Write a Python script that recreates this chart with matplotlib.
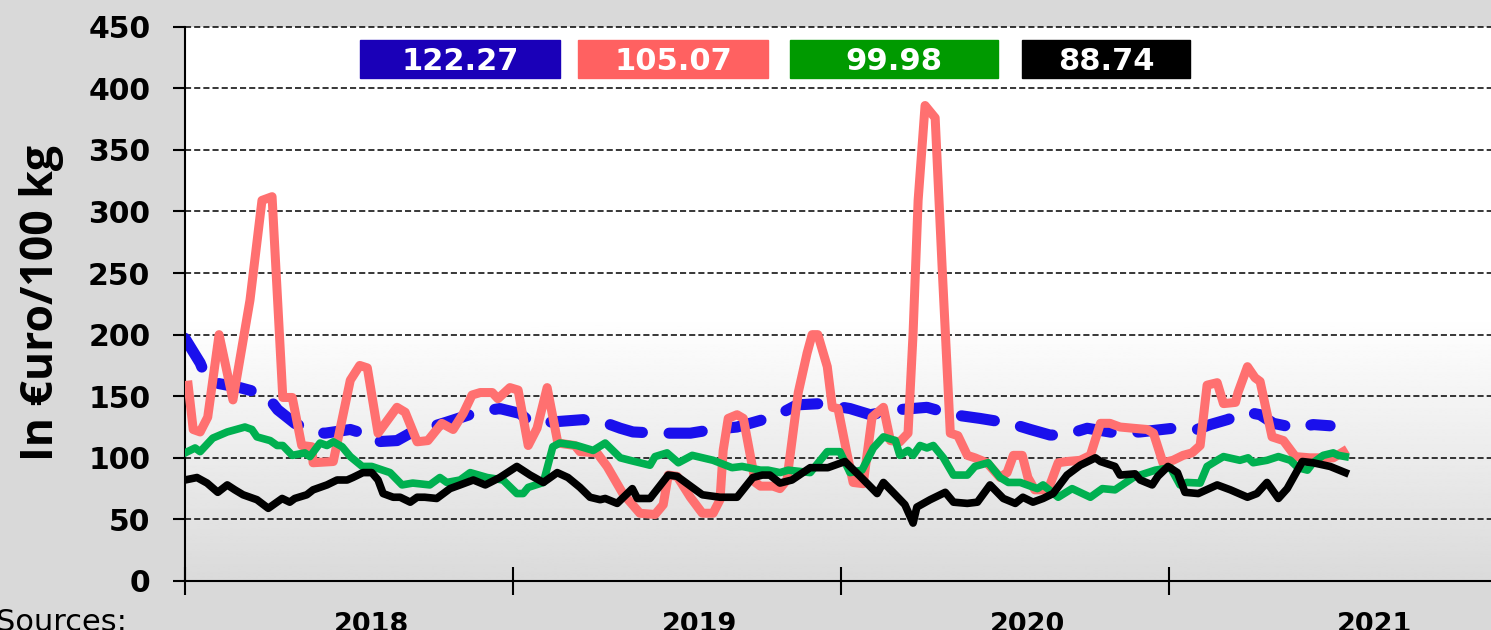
import numpy as np
import matplotlib
matplotlib.use("Agg")
import matplotlib.pyplot as plt
from matplotlib.patches import Rectangle

# weeks counted from the start of 2018, prices in EUR / 100 kg
blue_wk = [0, 2.4, 3.6, 8.7, 11.6, 13.2, 14.7, 17.4, 20.3, 22.2, 26.2, 28.1, 30.1,
           33.6, 35.7, 37.7, 41.5, 46.3, 49.9, 53.1, 54.7, 57.9, 63.1, 66.3, 69.0,
           71.0, 74.8, 80.1, 83.7, 87.5, 92.3, 94.8, 97.0, 100.7, 105.4, 108.6,
           112.9, 117.6, 121.8, 126.0, 130.8, 134.0, 137.1, 139.5, 143.0, 147.7,
           151.4, 156.6, 160.4, 162.5, 165.2, 168.4, 170.4, 172.5, 176.3, 178.8, 181.5]
blue_eur = [197, 177, 162, 157, 153, 149, 139, 128, 121, 120, 123, 120, 113,
            114, 120, 123, 129, 137, 140, 136, 129, 129, 131, 129, 124,
            121, 120, 120, 123, 125, 132, 137, 143, 144, 140, 135,
            139, 141, 135, 132, 128, 123, 118.5, 118.5, 124, 120,
            121, 124, 123, 127, 131, 137, 135, 128, 124, 127, 126]

red_wk = [0.5, 1.3, 2.4, 3.6, 5.4, 7.6, 10.3, 12.2, 13.8, 15.5, 17.0, 18.5, 20.1,
          20.3, 23.5, 26.2, 27.7, 28.9, 30.6, 33.6, 34.9, 36.8, 38.5, 40.7, 42.5,
          44.1, 45.5, 46.8, 48.7, 49.6, 51.5, 52.8, 54.4, 55.8, 57.4, 59.1, 61.8,
          62.6, 65.3, 66.9, 69.4, 72.1, 74.5, 75.8, 76.6, 78.0, 80.1, 82.0, 83.7,
          84.8, 85.3, 86.1, 87.5, 88.5, 90.4, 91.2, 93.2, 94.3, 95.4, 97.2, 98.6,
          99.4, 100.3, 101.8, 102.6, 103.5, 104.9, 105.9, 107.5, 108.9, 110.7,
          111.8, 113.3, 114.6, 115.4, 116.2, 117.3, 118.9, 120.0, 121.3, 122.5,
          124.0, 125.2, 127.1, 129.2, 130.3, 131.3, 132.7, 133.6, 134.7, 136.8,
          138.4, 139.8, 141.9, 143.5, 145.1, 146.6, 148.2, 150.3, 152.5, 153.5,
          155.0, 156.6, 158.2, 159.6, 160.9, 162.0, 163.6, 164.6, 166.5, 166.9,
          168.4, 169.6, 170.4, 172.3, 174.1, 176.0, 178.3, 182.0, 183.6]
red_eur = [159, 123, 121, 133, 200, 147, 228, 309, 312, 149, 149, 110, 109,
           96, 97, 163, 175, 173, 120, 141, 137, 113, 114, 128, 123,
           136, 151, 153, 153, 148, 157, 155, 110, 124, 157, 112, 110,
           105, 104, 93, 71, 55, 54, 62, 86, 85, 68, 55, 55,
           66, 106, 132, 135, 132, 80, 77, 77, 75, 82, 153, 185,
           200, 200, 174, 141, 140, 104, 80, 79, 133, 141,
           114, 113, 120, 201, 309, 386, 376, 255, 120, 118,
           102, 100, 96, 84, 88, 102, 102, 84, 74, 74,
           96, 97, 98, 102, 128, 128, 125, 124, 123, 120,
           96, 98, 102, 104, 110, 159, 161, 144, 145, 153,
           174, 165, 162, 117, 114, 101, 100, 100, 105]

green_wk = [0, 1.6, 2.4, 4.4, 6.7, 9.5, 10.6, 11.4, 13.5, 14.6, 15.5, 17.0, 19.0,
            19.8, 21.4, 22.5, 23.5, 24.9, 26.2, 28.1, 29.6, 32.5, 34.4, 36.1, 38.8,
            40.4, 41.5, 43.6, 45.2, 47.9, 50.4, 52.6, 53.6, 54.4, 56.8, 58.3, 59.4,
            62.1, 64.7, 66.6, 69.0, 70.5, 73.7, 74.5, 76.4, 78.2, 80.4, 83.7, 86.7,
            88.3, 91.2, 92.4, 94.3, 95.6, 99.1, 101.8, 103.8, 105.4, 107.3, 109.1,
            110.7, 112.6, 113.3, 114.6, 115.4, 116.5, 117.6, 118.6, 120.2, 121.8,
            124.0, 125.2, 127.3, 129.2, 130.5, 132.4, 135.1, 136.0, 138.4, 140.6,
            143.5, 145.4, 147.4, 150.3, 151.4, 153.8, 156.2, 157.7, 158.8, 160.9,
            162.0, 163.6, 164.6, 167.2, 168.5, 169.3, 171.5, 173.3, 175.2, 176.4,
            177.9, 178.8, 180.4, 182.0, 182.8, 183.9]
green_eur = [104, 108, 105, 116, 121, 125, 123, 117, 114, 110, 110, 102, 104,
             101, 112, 110, 113, 109, 101, 93, 93, 88, 78, 79.5, 78,
             84, 80, 82, 88, 84, 82, 71, 71, 76, 80, 109, 112,
             110, 106, 112, 100, 98, 94, 101, 104, 96, 102, 98, 92,
             93, 90, 90, 88, 90, 88, 105, 105, 88, 90, 108,
             117, 114, 102, 106, 102, 110, 108, 110, 100, 86,
             86, 93, 96, 84, 80, 80, 75, 78, 68, 75,
             68, 75, 74, 84, 86, 90, 92, 78, 80, 79.5,
             93, 98, 101, 98, 100, 96, 98, 101, 98, 92,
             90, 96, 102, 104, 102, 101]

black_wk = [0, 1.9, 3.5, 5.2, 6.7, 7.9, 9.2, 11.4, 13.2, 15.4, 16.6, 17.4, 19.3,
            20.3, 22.5, 24.1, 25.7, 26.6, 28.2, 29.6, 30.6, 31.4, 33.0, 34.1, 35.7,
            36.8, 38.0, 39.9, 42.0, 43.6, 45.7, 47.6, 49.9, 52.6, 54.7, 56.8, 59.0,
            60.7, 62.6, 64.2, 65.8, 66.6, 68.5, 70.9, 71.7, 73.7, 76.6, 78.0, 80.4,
            82.0, 84.8, 87.5, 90.0, 91.5, 92.7, 94.3, 96.2, 99.1, 101.9, 104.6,
            107.0, 109.7, 110.7, 112.6, 114.1, 115.4, 116.0, 118.1, 120.5, 121.8,
            124.0, 125.6, 127.6, 129.7, 131.6, 132.8, 134.4, 136.0, 137.6, 139.8,
            141.9, 144.3, 145.1, 147.4, 148.2, 150.6, 151.4, 153.3, 154.2, 155.8,
            157.3, 158.5, 160.6, 163.6, 165.7, 168.4, 169.9, 171.5, 173.3, 174.7,
            177.1, 178.8, 181.5, 183.9]
black_eur = [82, 84, 79.5, 72, 78, 74, 70, 66, 59, 67, 64, 67, 70,
             74, 78, 82, 82, 84, 88, 88, 82, 71, 68, 68, 64,
             68, 68, 67, 75, 78, 82, 78, 84, 93, 86, 80, 88,
             84, 76, 68, 66, 67, 63, 75, 67, 67, 86, 85, 76,
             70, 68, 68, 84, 86, 86, 79.5, 82, 92, 92, 97,
             85, 71, 80, 70, 62, 47, 60, 66, 72, 64,
             63, 64, 78, 67, 63, 68, 64, 67, 71, 86,
             94, 100, 97, 93, 86, 87, 82, 78, 85, 93,
             88, 72, 71, 78, 74, 68, 71, 80, 67, 75,
             97, 96, 93, 88]

box_text = ["122.27", "105.07", "99.98", "88.74"]
box_col = ["#1a00b8", "#ff6161", "#009a00", "#000000"]

year_lbl = ["2018", "2019", "2020", "2021"]
year_pos = [29.6, 81.5, 133.5, 188.5]
year_ticks = [0, 52, 104, 156]

W, H = 1491, 630
plt.rcParams["font.family"] = "DejaVu Sans"
plt.rcParams["font.weight"] = "bold"

fig = plt.figure(figsize=(W / 100, H / 100), dpi=100, facecolor="#d9d9d9")
ax = fig.add_axes([185 / W, 49 / H, 1306 / W, 554.3 / H])

# background: white at the top, fading to grey below 200
lev = np.linspace(0, 450, 451)
shade = np.clip(0.855 + 0.145 * lev / 215, 0, 1)
grad = np.repeat(shade[:, None], 2, axis=1)
ax.imshow(grad, cmap="gray", vmin=0, vmax=1, extent=(0, 207, 0, 450),
          origin="lower", aspect="auto", zorder=-5, interpolation="bilinear")

ax.plot(blue_wk, blue_eur, color="#1a10ec", lw=8, ls=(0, (3, 2.4)),
        dash_capstyle="round", solid_joinstyle="round", zorder=2)
ax.plot(red_wk, red_eur, color="#ff7070", lw=6.5, solid_joinstyle="round", zorder=3)
ax.plot(green_wk, green_eur, color="#00b050", lw=5.5, solid_joinstyle="round", zorder=4)
ax.plot(black_wk, black_eur, color="black", lw=5.5, solid_joinstyle="round", zorder=5)

ax.set_xlim(0, 207)
ax.set_ylim(0, 450)
ax.set_yticks(np.arange(0, 451, 50))
ax.grid(axis="y", color="black", ls=(0, (4, 2)), lw=1.1)
ax.set_axisbelow(True)
for g in ax.yaxis.get_gridlines():
    g.set_clip_on(False)
for s in ["top", "right"]:
    ax.spines[s].set_visible(False)
for s in ["left", "bottom"]:
    ax.spines[s].set_linewidth(1.5)

ax.tick_params(axis="y", direction="out", length=9, width=1.5, pad=16, labelsize=21.5)
ax.set_xticks(year_ticks)
ax.set_xticks(year_pos, year_lbl, minor=True)
ax.tick_params(axis="x", which="major", direction="inout", length=20, width=1.5,
               labelbottom=False)
ax.tick_params(axis="x", which="minor", length=0, pad=22, labelsize=19.5)

fig.text(42 / W, 1 - 303 / H, "In €uro/100 kg", rotation=90, family="Open Sans",
         weight="bold", size=32, ha="center", va="center")
fig.text(-4 / W, 1 - 608 / H, "Sources:", size=22, weight="normal", va="top", ha="left")

box_x0 = [360, 578, 790, 1022]
box_x1 = [560, 768, 998, 1190]
for x0, x1, t, c in zip(box_x0, box_x1, box_text, box_col):
    fig.add_artist(Rectangle((x0 / W, 1 - 78 / H), (x1 - x0) / W, 38 / H,
                             transform=fig.transFigure, color=c, zorder=5))
    fig.text((x0 + x1) / 2 / W, 1 - 69.5 / H, t, color="white", size=22,
             weight="bold", ha="center", va="baseline", zorder=6)

fig.savefig("out.png", dpi=100, facecolor=fig.get_facecolor())
